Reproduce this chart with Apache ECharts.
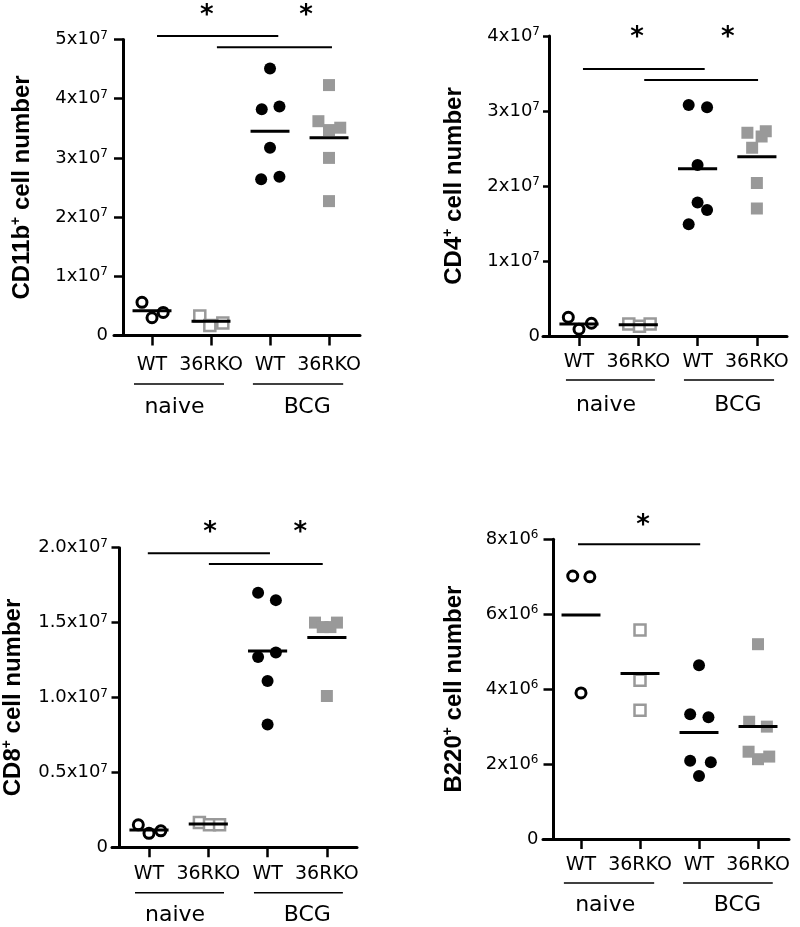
<!DOCTYPE html>
<html><head><meta charset="utf-8">
<script src="https://cdn.jsdelivr.net/npm/echarts@6/dist/echarts.min.js"></script>
<style>html,body{margin:0;padding:0;background:#fff}#c{width:800px;height:927px}</style>
</head><body><div id="c"></div>
<script>
// ---------- DATA ----------
const categories = ['WT', '36RKO', 'WT', '36RKO'];
const groupNames = ['naive', 'BCG'];

// CD11b+ cell number
const cd11bWtNaive  = [5.6e6, 3.0e6, 3.9e6];
const cd11bKoNaive  = [3.3e6, 1.7e6, 2.1e6];
const cd11bWtBcg    = [4.51e7, 3.82e7, 3.87e7, 3.17e7, 2.64e7, 2.68e7];
const cd11bKoBcg    = [4.23e7, 3.62e7, 3.51e7, 3.47e7, 3.00e7, 2.27e7];
const cd11bMeans    = [4.2e6, 2.4e6, 3.45e7, 3.34e7];
const cd11bTicks    = ['0', '1x10^7', '2x10^7', '3x10^7', '4x10^7', '5x10^7'];

// CD4+ cell number
const cd4WtNaive = [2.5e6, 0.9e6, 1.7e6];
const cd4KoNaive = [1.6e6, 1.3e6, 1.6e6];
const cd4WtBcg   = [3.08e7, 3.05e7, 2.28e7, 1.78e7, 1.68e7, 1.49e7];
const cd4KoBcg   = [2.71e7, 2.73e7, 2.66e7, 2.51e7, 2.04e7, 1.70e7];
const cd4Means   = [1.6e6, 1.5e6, 2.23e7, 2.39e7];
const cd4Ticks   = ['0', '1x10^7', '2x10^7', '3x10^7', '4x10^7'];

// CD8+ cell number
const cd8WtNaive = [1.5e6, 0.93e6, 1.1e6];
const cd8KoNaive = [1.65e6, 1.5e6, 1.5e6];
const cd8WtBcg   = [1.70e7, 1.65e7, 1.27e7, 1.30e7, 1.11e7, 0.82e7];
const cd8KoBcg   = [1.50e7, 1.47e7, 1.47e7, 1.50e7, 1.01e7];
const cd8Means   = [1.16e6, 1.56e6, 1.31e7, 1.40e7];
const cd8Ticks   = ['0', '0.5x10^7', '1.0x10^7', '1.5x10^7', '2.0x10^7'];

// B220+ cell number
const b220WtNaive = [7.02e6, 7.0e6, 3.9e6];
const b220KoNaive = [5.58e6, 4.24e6, 3.44e6];
const b220WtBcg   = [4.64e6, 3.33e6, 3.25e6, 2.09e6, 2.05e6, 1.68e6];
const b220KoBcg   = [5.2e6, 3.13e6, 3.0e6, 2.33e6, 2.13e6, 2.2e6];
const b220Means   = [5.98e6, 4.42e6, 2.84e6, 3.0e6];
const b220Ticks   = ['0', '2x10^6', '4x10^6', '6x10^6', '8x10^6'];

// horizontal scatter of points within each category (category units)
const cd11bSpread = [[-0.17, 0, 0.19], [-0.19, -0.02, 0.2], [0, -0.14, 0.16, 0, -0.15, 0.16], [0, -0.18, 0.19, 0, 0, 0]];
const cd4Spread   = [[-0.18, 0, 0.21], [-0.16, 0.02, 0.2], [-0.15, 0.16, 0, 0, 0.16, -0.15], [-0.16, 0.15, 0.08, -0.08, 0, 0]];
const cd8Spread   = [[-0.18, 0, 0.2], [-0.15, 0.02, 0.19], [-0.16, 0.14, -0.16, 0.14, 0, 0], [-0.2, -0.07, 0.06, 0.17, 0]];
const b220Spread  = [[-0.14, 0.15, 0], [0, 0, 0], [0, -0.15, 0.16, -0.15, 0.2, 0], [0, -0.15, 0.15, -0.16, 0, 0.19]];

const panels = [
  { name: 'CD11b', groups: [cd11bWtNaive, cd11bKoNaive, cd11bWtBcg, cd11bKoBcg], spread: cd11bSpread, means: cd11bMeans, ticks: cd11bTicks },
  { name: 'CD4',   groups: [cd4WtNaive, cd4KoNaive, cd4WtBcg, cd4KoBcg],         spread: cd4Spread,   means: cd4Means,   ticks: cd4Ticks },
  { name: 'CD8',   groups: [cd8WtNaive, cd8KoNaive, cd8WtBcg, cd8KoBcg],         spread: cd8Spread,   means: cd8Means,   ticks: cd8Ticks },
  { name: 'B220',  groups: [b220WtNaive, b220KoNaive, b220WtBcg, b220KoBcg],     spread: b220Spread,  means: b220Means,  ticks: b220Ticks }
];

// ---------- LAYOUT ----------
const layouts = [
  { left: 114, top: 39.5, width: 246, height: 296, xMin: 0.356, xMax: 4.525, yMax: 5e7, yInt: 1e7, yOff: -9, tickLen: 9, labMargin: 15, nameGap: 88, catMargin: 20,
    sig: [[1.085, 3.14, 5.06e7], [2.10, 4.05, 4.87e7]], stars: [[1.93, 5.495e7], [3.61, 5.495e7]],
    gLineY: -0.82e7, gLines: [[0.695, 2.22], [2.71, 4.24]], gLabY: -1.22e7, gLabX: [1.38, 3.63] },
  { left: 543, top: 36, width: 244, height: 300, xMin: 0.393, xMax: 4.508, yMax: 4e7, yInt: 1e7, yOff: -6, tickLen: 6, labMargin: 9, nameGap: 82, catMargin: 17,
    sig: [[1.067, 3.12, 3.56e7], [2.10, 4.02, 3.413e7]], stars: [[1.98, 4.05e7], [3.51, 4.05e7]],
    gLineY: -0.587e7, gLines: [[0.78, 2.28], [2.77, 4.29]], gLabY: -0.92e7, gLabX: [1.455, 3.68] },
  { left: 112, top: 547.7, width: 245, height: 299.6, xMin: 0.376, xMax: 4.508, yMax: 2e7, yInt: 0.5e7, yOff: -7, tickLen: 7.5, labMargin: 11, nameGap: 93, catMargin: 17,
    sig: [[0.98, 3.04, 1.963e7], [2.01, 3.93, 1.891e7]], stars: [[2.03, 2.138e7], [3.55, 2.138e7]],
    gLineY: -0.303e7, gLines: [[0.764, 2.265], [2.77, 4.27]], gLabY: -0.454e7, gLabX: [1.44, 3.67] },
  { left: 543, top: 539.3, width: 246, height: 299.7, xMin: 0.356, xMax: 4.525, yMax: 8e6, yInt: 2e6, yOff: -10, tickLen: 9.5, labMargin: 14.5, nameGap: 86, catMargin: 17,
    sig: [[0.95, 3.02, 7.87e6]], stars: [[2.05, 8.52e6]],
    gLineY: -1.175e6, gLines: [[0.71, 2.24], [2.73, 4.25]], gLabY: -1.76e6, gLabX: [1.41, 3.65] }
];

const GRAY = '#999999';
const FONT = 'DejaVu Sans';
const markerStyles = [
  { symbol: 'circle', symbolSize: 10, itemStyle: { color: '#fff', borderColor: '#000', borderWidth: 3, opacity: 1 } },
  { symbol: 'rect', symbolSize: 11, itemStyle: { color: '#fff', borderColor: GRAY, borderWidth: 2.5, opacity: 1 } },
  { symbol: 'circle', symbolSize: 12, itemStyle: { color: '#000', borderWidth: 0, opacity: 1 } },
  { symbol: 'rect', symbolSize: 12, itemStyle: { color: GRAY, borderWidth: 0, opacity: 1 } }
];

const grids = [], xAxes = [], yAxes = [], series = [];

panels.forEach((p, i) => {
  const L = layouts[i];
  grids.push({ left: L.left, top: L.top, width: L.width, height: L.height, containLabel: false, outerBoundsMode: 'none' });
  xAxes.push({
    gridIndex: i, type: 'value', min: L.xMin, max: L.xMax,
    axisLine: { show: true, onZero: false, lineStyle: { color: '#000', width: 3 } },
    axisTick: { show: true, customValues: [1, 2, 3, 4], length: 10, inside: false, lineStyle: { color: '#000', width: 2.5 } },
    axisLabel: { show: true, customValues: [1, 2, 3, 4], margin: L.catMargin, fontFamily: FONT, fontSize: 19, color: '#000',
      formatter: v => categories[Math.round(v) - 1] },
    splitLine: { show: false }
  });
  yAxes.push({
    gridIndex: i, type: 'value', min: 0, max: L.yMax, interval: L.yInt, offset: L.yOff,
    axisLine: { show: true, onZero: false, lineStyle: { color: '#000', width: 3 } },
    axisTick: { show: true, length: L.tickLen, lineStyle: { color: '#000', width: 2.5 } },
    axisLabel: { show: true, margin: L.labMargin, showMinLabel: true, showMaxLabel: true,
      formatter: v => {
        const s = p.ticks[Math.round(v / L.yInt)] || '';
        if (s.indexOf('^') < 0) return '{m|' + s + '}';
        const parts = s.split('^');
        return '{m|' + parts[0] + '}{e|' + parts[1] + '}';
      },
      rich: {
        m: { fontFamily: FONT, fontSize: 18, color: '#000', lineHeight: 20 },
        e: { fontFamily: FONT, fontSize: 12, color: '#000', verticalAlign: 'top', lineHeight: 12 }
      }
    },
    splitLine: { show: false },
    name: '{t|' + p.name + '}{s|+}{t| cell number}', nameLocation: 'middle', nameRotate: 90, nameGap: L.nameGap,
    nameTextStyle: {
      rich: {
        t: { fontFamily: 'Liberation Sans', fontWeight: 'bold', fontSize: 24, color: '#000', lineHeight: 26 },
        s: { fontFamily: 'Liberation Sans', fontWeight: 'bold', fontSize: 14, color: '#000', verticalAlign: 'top', lineHeight: 14 }
      }
    }
  });

  // points
  p.groups.forEach((vals, g) => {
    series.push(Object.assign({
      type: 'scatter', xAxisIndex: i, yAxisIndex: i, silent: true, animation: false, z: 3,
      data: vals.map((v, k) => [g + 1 + p.spread[g][k], v])
    }, markerStyles[g]));
  });
  // mean lines
  p.means.forEach((m, g) => {
    series.push({
      type: 'line', xAxisIndex: i, yAxisIndex: i, silent: true, animation: false, symbol: 'none', z: 4,
      lineStyle: { color: '#000', width: 3 },
      data: [[g + 1 - 0.33, m], [g + 1 + 0.33, m]]
    });
  });
  // significance bars
  L.sig.forEach(s => {
    series.push({
      type: 'line', xAxisIndex: i, yAxisIndex: i, silent: true, animation: false, symbol: 'none', clip: false,
      lineStyle: { color: '#000', width: 2 },
      data: [[s[0], s[2]], [s[1], s[2]]]
    });
  });
  series.push({
    type: 'scatter', xAxisIndex: i, yAxisIndex: i, silent: true, animation: false, clip: false,
    symbolSize: 1, itemStyle: { color: 'rgba(0,0,0,0)', opacity: 1 },
    label: { show: true, position: 'inside', offset: [0, 6], formatter: '*', fontFamily: FONT, fontWeight: 'bold', fontSize: 26,
      color: '#000', opacity: 1, textBorderWidth: 0, textBorderColor: 'transparent' },
    data: L.stars
  });
  // group bars & labels under the axis
  L.gLines.forEach(gl => {
    series.push({
      type: 'line', xAxisIndex: i, yAxisIndex: i, silent: true, animation: false, symbol: 'none', clip: false,
      lineStyle: { color: '#000', width: 1.5 },
      data: [[gl[0], L.gLineY], [gl[1], L.gLineY]]
    });
  });
  series.push({
    type: 'scatter', xAxisIndex: i, yAxisIndex: i, silent: true, animation: false, clip: false,
    symbolSize: 1, itemStyle: { color: 'rgba(0,0,0,0)', opacity: 1 },
    label: { show: true, position: 'inside', formatter: prm => groupNames[prm.dataIndex], fontFamily: FONT, fontSize: 22,
      color: '#000', opacity: 1, textBorderWidth: 0, textBorderColor: 'transparent' },
    data: L.gLabX.map(x => [x, L.gLabY])
  });
});

const chart = echarts.init(document.getElementById('c'), null, { renderer: 'canvas' });
chart.setOption({
  backgroundColor: '#fff',
  animation: false,
  grid: grids, xAxis: xAxes, yAxis: yAxes, series: series
});
</script></body></html>
